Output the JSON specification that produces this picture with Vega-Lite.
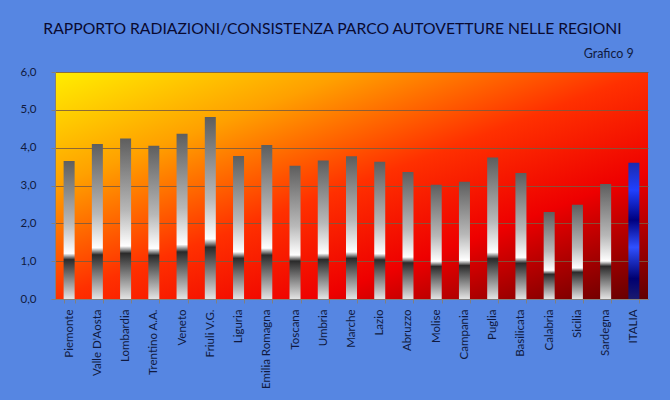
{
  "$schema": "https://vega.github.io/schema/vega-lite/v6.json",
  "width": 593,
  "height": 227,
  "autosize": {"type": "none"},
  "padding": {"left": 55, "top": 72, "right": 22, "bottom": 101},
  "background": "#5686e2",
  "title": {
    "text": "RAPPORTO RADIAZIONI/CONSISTENZA PARCO AUTOVETTURE NELLE REGIONI",
    "font": "Lato",
    "fontSize": 15.7,
    "fontWeight": "normal",
    "color": "#0a0a30",
    "anchor": "middle",
    "frame": "group",
    "dx": -19,
    "offset": 10
  },
  "data": {
    "values": [
      {"regione": "Piemonte", "rapporto": 3.65},
      {"regione": "Valle D'Aosta", "rapporto": 4.1},
      {"regione": "Lombardia", "rapporto": 4.24},
      {"regione": "Trentino A.A.", "rapporto": 4.05},
      {"regione": "Veneto", "rapporto": 4.37},
      {"regione": "Friuli V.G.", "rapporto": 4.81},
      {"regione": "Liguria", "rapporto": 3.78},
      {"regione": "Emilia Romagna", "rapporto": 4.07},
      {"regione": "Toscana", "rapporto": 3.52},
      {"regione": "Umbria", "rapporto": 3.66},
      {"regione": "Marche", "rapporto": 3.77},
      {"regione": "Lazio", "rapporto": 3.63},
      {"regione": "Abruzzo", "rapporto": 3.36},
      {"regione": "Molise", "rapporto": 3.02},
      {"regione": "Campania", "rapporto": 3.1},
      {"regione": "Puglia", "rapporto": 3.74},
      {"regione": "Basilicata", "rapporto": 3.33},
      {"regione": "Calabria", "rapporto": 2.3},
      {"regione": "Sicilia", "rapporto": 2.49},
      {"regione": "Sardegna", "rapporto": 3.04},
      {"regione": "ITALIA", "rapporto": 3.6}
    ]
  },
  "encoding": {
    "x": {
      "field": "regione", "type": "nominal", "sort": null,
      "scale": {"paddingInner": 0.61, "paddingOuter": 0.305},
      "axis": {
        "title": null,
        "labelAngle": -90,
        "labelFont": "Lato",
        "labelFontSize": 11.5,
        "labelColor": "#101a40",
        "labelPadding": 6,
        "domainColor": "#808080",
        "tickColor": "#808080",
        "tickSize": 4,
        "tickBand": "extent"
      }
    },
    "y": {
      "field": "rapporto", "type": "quantitative",
      "scale": {"domain": [0, 6], "nice": false},
      "axis": {
        "title": null,
        "values": [0, 1, 2, 3, 4, 5, 6],
        "format": ".1f",
        "labelFont": "Lato",
        "labelFontSize": 11.5,
        "labelColor": "#101a40",
        "labelPadding": 15,
        "grid": true,
        "gridColor": "#7a5a40",
        "gridOpacity": 0.85,
        "domainColor": "#808080",
        "tickColor": "#808080",
        "tickSize": 4
      }
    }
  },
  "layer": [
    {
      "mark": {"type": "bar"},
      "encoding": {
        "fill": {
          "condition": {
            "test": "datum.regione === 'ITALIA'",
            "value": {
              "gradient": "linear", "x1": 0, "y1": 0, "x2": 0, "y2": 1,
              "stops": [
                {"offset": 0, "color": "#1a2ab0"},
                {"offset": 0.2, "color": "#2040ff"},
                {"offset": 0.42, "color": "#000080"},
                {"offset": 0.62, "color": "#3050ff"},
                {"offset": 0.85, "color": "#000070"},
                {"offset": 1, "color": "#1a1a70"}
              ]
            }
          },
          "value": {
            "gradient": "linear", "x1": 0, "y1": 0, "x2": 0, "y2": 1,
            "stops": [
              {"offset": 0, "color": "#5e5e5e"},
              {"offset": 0.45, "color": "#b8b8b8"},
              {"offset": 0.67, "color": "#ffffff"},
              {"offset": 0.715, "color": "#2a2a2a"},
              {"offset": 1, "color": "#e4e4e4"}
            ]
          }
        }
      }
    },
    {
      "data": {"values": [{"etichetta": "Grafico 9", "regione": "ITALIA", "rapporto": 6}]},
      "mark": {
        "type": "text",
        "font": "Lato",
        "fontSize": 12.5,
        "fontWeight": "normal",
        "color": "#101a40",
        "align": "right",
        "baseline": "alphabetic",
        "dy": -14
      },
      "encoding": {
        "text": {"field": "etichetta"}
      }
    }
  ],
  "config": {
    "locale": {
      "number": {"decimal": ",", "thousands": ".", "grouping": [3], "currency": ["€", ""]}
    },
    "view": {
      "stroke": null,
      "fill": {
        "gradient": "linear", "x1": 0, "y1": 0, "x2": 1, "y2": 1,
        "stops": [
          {"offset": 0, "color": "#ffee00"},
          {"offset": 0.25, "color": "#ffa000"},
          {"offset": 0.5, "color": "#ff3000"},
          {"offset": 0.72, "color": "#ee0000"},
          {"offset": 1, "color": "#600000"}
        ]
      }
    }
  }
}
